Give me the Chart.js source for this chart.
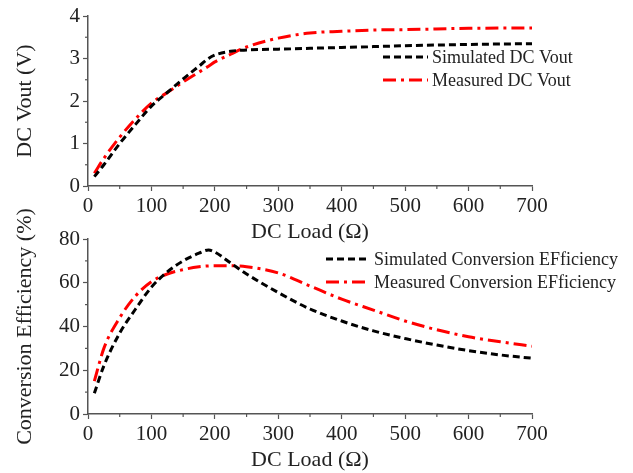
<!DOCTYPE html>
<html>
<head>
<meta charset="utf-8">
<script src="https://cdn.jsdelivr.net/npm/chart.js@4"></script>
<style>
  html, body { margin: 0; padding: 0; background: #fff; }
  #wrap { position: relative; width: 633px; height: 473px; }
  canvas { position: absolute; left: 0; }
</style>
</head>
<body>
<div id="wrap">
  <canvas id="vout" width="633" height="245" style="top:0"></canvas>
  <canvas id="eff" width="633" height="283" style="top:190px"></canvas>
</div>
<script>
// DC load (ohm) sample points
const loadVout = [10, 25, 50, 75, 100, 125, 150, 175, 190, 200, 225, 250, 300, 350, 400, 450, 500, 600, 700];
const simVout  = [0.22, 0.5, 1.0, 1.45, 1.88, 2.2, 2.52, 2.82, 3.0, 3.08, 3.17, 3.2, 3.22, 3.24, 3.26, 3.28, 3.3, 3.33, 3.35];
const measVout = [0.3, 0.65, 1.15, 1.58, 1.95, 2.2, 2.45, 2.68, 2.82, 2.92, 3.1, 3.27, 3.48, 3.6, 3.64, 3.67, 3.68, 3.71, 3.72];

const loadEff = [10, 25, 50, 75, 100, 125, 150, 175, 190, 200, 225, 250, 300, 350, 400, 450, 500, 550, 600, 650, 700];
const simEff  = [9.5, 22, 37, 48, 58, 65, 70, 73.5, 75, 74, 69, 64, 55.5, 48, 42.5, 38, 34.5, 31.5, 29, 27, 25.5];
const measEff = [15, 30, 44, 54, 60.5, 64, 66, 67.3, 67.7, 67.8, 67.8, 67.3, 64.5, 58.5, 52.5, 47.5, 42.5, 38.5, 35.3, 33, 31];

const xTicks = [0, 100, 200, 300, 400, 500, 600, 700];
const voutTicks = [0, 1, 2, 3, 4];
const effTicks = [0, 20, 40, 60, 80];

const FONT = "'Liberation Serif', 'Times New Roman', serif";
const AXIS = '#555';
const TEXT = '#222';

function pts(xs, ys) {
    return xs.map((x, i) => ({x: x, y: ys[i]}));
}

// short minor ticks halfway between the major ones
const minorTicks = {
    id: 'minorTicks',
    afterDraw(chart, args, opts) {
        const ctx = chart.ctx;
        ctx.save();
        ctx.strokeStyle = AXIS;
        ctx.lineWidth = 1.2;
        ['x', 'y'].forEach(id => {
            const scale = chart.scales[id];
            const step = opts[id];
            if (!scale || !step) return;
            for (let v = scale.min + step; v < scale.max; v += 2 * step) {
                const p = scale.getPixelForValue(v);
                ctx.beginPath();
                if (id === 'x') {
                    ctx.moveTo(p, scale.top);
                    ctx.lineTo(p, scale.top + 3);
                } else {
                    ctx.moveTo(scale.right, p);
                    ctx.lineTo(scale.right - 3, p);
                }
                ctx.stroke();
            }
        });
        ctx.restore();
    }
};

// legend drawn as line samples inside the plot
const lineLegend = {
    id: 'lineLegend',
    afterDraw(chart, args, opts) {
        const ctx = chart.ctx;
        ctx.save();
        ctx.font = '18px ' + FONT;
        ctx.textBaseline = 'middle';
        chart.data.datasets.forEach((ds, i) => {
            const y = opts.y + i * opts.row;
            ctx.strokeStyle = ds.borderColor;
            ctx.lineWidth = ds.borderWidth;
            ctx.setLineDash(ds.borderDash || []);
            ctx.beginPath();
            ctx.moveTo(opts.x, y);
            ctx.lineTo(opts.x + opts.len, y);
            ctx.stroke();
            ctx.setLineDash([]);
            ctx.fillStyle = TEXT;
            ctx.fillText(ds.label, opts.x + opts.len + 4, y + 1);
        });
        ctx.restore();
    }
};

function axis(title, min, max, step, ticks, isY) {
    const a = {
        type: 'linear',
        min: min,
        max: max,
        afterBuildTicks: s => { s.ticks = ticks.map(v => ({value: v})); },
        ticks: {
            stepSize: step,
            color: TEXT,
            font: {family: FONT, size: 21},
            padding: 3,
            maxRotation: 0,
        },
        grid: {
            drawOnChartArea: false,
            drawTicks: true,
            tickLength: 5,
            tickColor: AXIS,
            tickWidth: 1.2,
        },
        border: {color: AXIS, width: 1.5},
        title: {
            display: true,
            text: title,
            color: TEXT,
            font: {family: FONT, size: 22},
            padding: isY ? {top: 12, bottom: 0} : {top: 0, bottom: 0},
        },
    };
    if (isY) a.afterFit = s => { s.width = 88; };
    else a.afterFit = s => { s.height = 59; };
    return a;
}

function makeChart(canvas, datasets, yTitle, yMax, yStep, yTicks, padTop, legendPos, yMinor) {
    return new Chart(canvas, {
        type: 'line',
        data: {datasets: datasets},
        options: {
            responsive: false,
            animation: false,
            devicePixelRatio: 1,
            layout: {padding: {top: padTop, right: 101, left: 0, bottom: 0}},
            elements: {point: {radius: 0}, line: {cubicInterpolationMode: 'monotone'}},
            scales: {
                x: axis('DC Load (\u03A9)', 0, 700, 100, xTicks, false),
                y: axis(yTitle, 0, yMax, yStep, yTicks, true),
            },
            plugins: {
                legend: {display: false},
                tooltip: {enabled: false},
                minorTicks: {x: 50, y: yMinor},
                lineLegend: legendPos,
            },
        },
        plugins: [minorTicks, lineLegend],
    });
}

const simStyle = {borderColor: '#000', borderWidth: 3, borderDash: [7, 4], fill: false};
const measStyle = {borderColor: '#ff0000', borderWidth: 3, borderDash: [13, 5, 3, 5], fill: false};

makeChart(document.getElementById('vout'), [
    Object.assign({label: 'Simulated DC Vout', data: pts(loadVout, simVout)}, simStyle),
    Object.assign({label: 'Measured DC Vout', data: pts(loadVout, measVout)}, measStyle),
], 'DC Vout (V)', 4, 1, voutTicks, 16, {x: 383, y: 57, row: 23, len: 45}, 0.5);

makeChart(document.getElementById('eff'), [
    Object.assign({label: 'Simulated Conversion EFficiency', data: pts(loadEff, simEff)}, simStyle),
    Object.assign({label: 'Measured Conversion EFficiency', data: pts(loadEff, measEff)}, measStyle),
], 'Conversion Efficiency (%)', 80, 20, effTicks, 49, {x: 326, y: 69, row: 23, len: 44}, 10);
</script>
</body>
</html>
